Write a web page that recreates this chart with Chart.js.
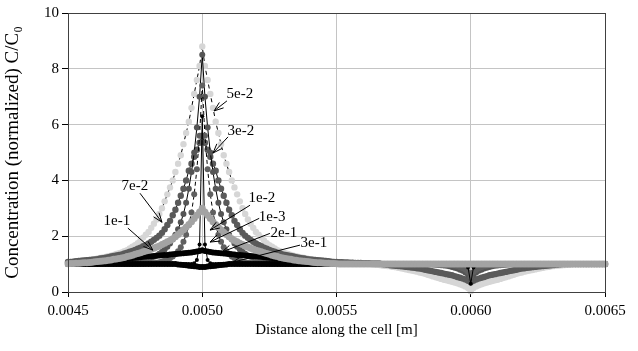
<!DOCTYPE html>
<html>
<head>
<meta charset="utf-8">
<script src="https://cdn.jsdelivr.net/npm/chart.js@4.4.0/dist/chart.umd.min.js"></script>
<style>
  html, body { margin: 0; padding: 0; background: #fff; }
  #conc { display: block; }
</style>
</head>
<body>
<canvas id="conc" width="638" height="351"></canvas>
<script>
// distance along the cell [m]
const distance = [
  0.00450, 0.00451, 0.00452, 0.00453, 0.00454, 0.00455, 0.00456, 0.00457, 0.00458, 0.00459,
  0.00460, 0.00461, 0.00462, 0.00463, 0.00464, 0.00465, 0.00466, 0.00467, 0.00468, 0.00469,
  0.00470, 0.00471, 0.00472, 0.00473, 0.00474, 0.00475, 0.00476, 0.00477, 0.00478, 0.00479,
  0.00480, 0.00481, 0.00482, 0.00483, 0.00484, 0.00485, 0.00486, 0.00487, 0.00488, 0.00489,
  0.00490, 0.00491, 0.00492, 0.00493, 0.00494, 0.00495, 0.00496, 0.00497, 0.00498, 0.00499,
  0.00500, 0.00501, 0.00502, 0.00503, 0.00504, 0.00505, 0.00506, 0.00507, 0.00508, 0.00509,
  0.00510, 0.00511, 0.00512, 0.00513, 0.00514, 0.00515, 0.00516, 0.00517, 0.00518, 0.00519,
  0.00520, 0.00521, 0.00522, 0.00523, 0.00524, 0.00525, 0.00526, 0.00527, 0.00528, 0.00529,
  0.00530, 0.00531, 0.00532, 0.00533, 0.00534, 0.00535, 0.00536, 0.00537, 0.00538, 0.00539,
  0.00540, 0.00541, 0.00542, 0.00543, 0.00544, 0.00545, 0.00546, 0.00547, 0.00548, 0.00549,
  0.00550, 0.00551, 0.00552, 0.00553, 0.00554, 0.00555, 0.00556, 0.00557, 0.00558, 0.00559,
  0.00560, 0.00561, 0.00562, 0.00563, 0.00564, 0.00565, 0.00566, 0.00567, 0.00568, 0.00569,
  0.00570, 0.00571, 0.00572, 0.00573, 0.00574, 0.00575, 0.00576, 0.00577, 0.00578, 0.00579,
  0.00580, 0.00581, 0.00582, 0.00583, 0.00584, 0.00585, 0.00586, 0.00587, 0.00588, 0.00589,
  0.00590, 0.00591, 0.00592, 0.00593, 0.00594, 0.00595, 0.00596, 0.00597, 0.00598, 0.00599,
  0.00600, 0.00601, 0.00602, 0.00603, 0.00604, 0.00605, 0.00606, 0.00607, 0.00608, 0.00609,
  0.00610, 0.00611, 0.00612, 0.00613, 0.00614, 0.00615, 0.00616, 0.00617, 0.00618, 0.00619,
  0.00620, 0.00621, 0.00622, 0.00623, 0.00624, 0.00625, 0.00626, 0.00627, 0.00628, 0.00629,
  0.00630, 0.00631, 0.00632, 0.00633, 0.00634, 0.00635, 0.00636, 0.00637, 0.00638, 0.00639,
  0.00640, 0.00641, 0.00642, 0.00643, 0.00644, 0.00645, 0.00646, 0.00647, 0.00648, 0.00649,
  0.00650
];

// C/C0 for each parameter value
const c1e3 = [
  1, 1, 1, 1, 1, 1, 1, 1, 1, 1,
  1, 1, 1, 1, 1, 1, 1, 1, 1, 1,
  1, 1, 1, 1, 1, 1, 1, 1, 1, 1,
  1, 1, 1, 1, 1, 1, 1, 1, 1, 1,
  1, 1, 1, 1, 1, 1, 1, 1.03, 1.15, 1.7,
  6.3,
  1.7, 1.15, 1.03, 1, 1, 1, 1, 1, 1, 1,
  1, 1, 1, 1, 1, 1, 1, 1, 1, 1,
  1, 1, 1, 1, 1, 1, 1, 1, 1, 1,
  1, 1, 1, 1, 1, 1, 1, 1, 1, 1,
  1, 1, 1, 1, 1, 1, 1, 1, 1, 1,
  1, 1, 1, 1, 1, 1, 1, 1, 1, 1,
  1, 1, 1, 1, 1, 1, 1, 1, 1, 1,
  1, 1, 1, 1, 1, 1, 1, 1, 1, 1,
  1, 1, 1, 1, 1, 1, 1, 1, 1, 1,
  1, 1, 1, 1, 1, 1, 1, 0.98, 0.88, 0.3,
  0.88, 0.98, 1, 1, 1, 1, 1, 1, 1, 1,
  1, 1, 1, 1, 1, 1, 1, 1, 1, 1,
  1, 1, 1, 1, 1, 1, 1, 1, 1, 1,
  1, 1, 1, 1, 1, 1, 1, 1, 1, 1,
  1, 1, 1, 1, 1, 1, 1, 1, 1, 1
];
const c1e2 = [
  1, 1, 1, 1, 1, 1, 1, 1, 1, 1,
  1, 1, 1, 1, 1, 1, 1, 1, 1, 1,
  1, 1, 1, 1, 1, 1, 1, 1.01, 1.01, 1.02,
  1.02, 1.03, 1.04, 1.05, 1.07, 1.09, 1.12, 1.16, 1.21, 1.27,
  1.35, 1.46, 1.6, 1.8, 2.05, 2.4, 2.85, 3.5, 4.4, 5.6,
  7.4,
  5.6, 4.4, 3.5, 2.85, 2.4, 2.05, 1.8, 1.6, 1.46, 1.35,
  1.27, 1.21, 1.16, 1.12, 1.09, 1.07, 1.05, 1.04, 1.03, 1.02,
  1.02, 1.01, 1.01, 1, 1, 1, 1, 1, 1, 1,
  1, 1, 1, 1, 1, 1, 1, 1, 1, 1,
  1, 1, 1, 1, 1, 1, 1, 1, 1, 1,
  1, 1, 1, 1, 1, 1, 1, 1, 1, 1,
  1, 1, 1, 1, 1, 1, 1, 1, 1, 1,
  1, 1, 1, 1, 1, 1, 1, 1, 1, 1,
  1, 1, 1, 1, 1, 1, 1, 1, 1, 0.99,
  0.98, 0.97, 0.96, 0.94, 0.92, 0.89, 0.85, 0.8, 0.72, 0.55,
  0.72, 0.8, 0.85, 0.89, 0.92, 0.94, 0.96, 0.97, 0.98, 0.99,
  1, 1, 1, 1, 1, 1, 1, 1, 1, 1,
  1, 1, 1, 1, 1, 1, 1, 1, 1, 1,
  1, 1, 1, 1, 1, 1, 1, 1, 1, 1,
  1, 1, 1, 1, 1, 1, 1, 1, 1, 1
];
const c3e2 = [
  1, 1, 1, 1, 1, 1, 1, 1, 1, 1,
  1, 1, 1, 1, 1, 1, 1.01, 1.01, 1.02, 1.02,
  1.03, 1.03, 1.04, 1.05, 1.06, 1.08, 1.09, 1.11, 1.13, 1.16,
  1.19, 1.22, 1.26, 1.31, 1.37, 1.44, 1.52, 1.62, 1.74, 1.88,
  2.05, 2.25, 2.5, 2.8, 3.2, 3.7, 4.3, 5.0, 5.9, 7.0,
  8.5,
  7.0, 5.9, 5.0, 4.3, 3.7, 3.2, 2.8, 2.5, 2.25, 2.05,
  1.88, 1.74, 1.62, 1.52, 1.44, 1.37, 1.31, 1.26, 1.22, 1.19,
  1.16, 1.13, 1.11, 1.09, 1.08, 1.06, 1.05, 1.04, 1.03, 1.03,
  1.02, 1.02, 1.01, 1.01, 1, 1, 1, 1, 1, 1,
  1, 1, 1, 1, 1, 1, 1, 1, 1, 1,
  1, 1, 1, 1, 1, 1, 1, 1, 1, 1,
  1, 1, 1, 1, 1, 1, 1, 1, 1, 1,
  1, 1, 1, 1, 1, 1, 1, 1, 1, 1,
  1, 1, 1, 1, 1, 0.99, 0.98, 0.97, 0.96, 0.95,
  0.94, 0.92, 0.9, 0.87, 0.84, 0.8, 0.76, 0.7, 0.62, 0.5,
  0.62, 0.7, 0.76, 0.8, 0.84, 0.87, 0.9, 0.92, 0.94, 0.95,
  0.96, 0.97, 0.98, 0.99, 1, 1, 1, 1, 1, 1,
  1, 1, 1, 1, 1, 1, 1, 1, 1, 1,
  1, 1, 1, 1, 1, 1, 1, 1, 1, 1,
  1, 1, 1, 1, 1, 1, 1, 1, 1, 1
];
const c5e2 = [
  1.07, 1.08, 1.09, 1.1, 1.11, 1.12, 1.13, 1.14, 1.15, 1.17,
  1.18, 1.2, 1.22, 1.24, 1.26, 1.28, 1.3, 1.33, 1.36, 1.39,
  1.42, 1.46, 1.5, 1.56, 1.62, 1.68, 1.75, 1.85, 1.95, 2.05,
  2.15, 2.3, 2.45, 2.6, 2.8, 3.0, 3.25, 3.5, 3.75, 4.0,
  4.3, 4.6, 4.9, 5.3, 5.7, 6.1, 6.6, 7.1, 7.6, 8.1,
  8.8,
  8.1, 7.6, 7.1, 6.6, 6.1, 5.7, 5.3, 4.9, 4.6, 4.3,
  4.0, 3.75, 3.5, 3.25, 3.0, 2.8, 2.6, 2.45, 2.3, 2.15,
  2.05, 1.95, 1.85, 1.75, 1.68, 1.62, 1.56, 1.5, 1.46, 1.42,
  1.39, 1.36, 1.33, 1.3, 1.28, 1.26, 1.24, 1.22, 1.2, 1.18,
  1.17, 1.15, 1.14, 1.13, 1.12, 1.11, 1.1, 1.09, 1.08, 1.07,
  1.06, 1.06, 1.05, 1.05, 1.04, 1.04, 1.03, 1.03, 1.03, 1.02,
  1.02, 1.02, 1.0, 0.99, 0.98, 0.97, 0.95, 0.94, 0.93, 0.92,
  0.9, 0.89, 0.87, 0.85, 0.83, 0.81, 0.79, 0.77, 0.75, 0.73,
  0.7, 0.68, 0.65, 0.62, 0.59, 0.56, 0.53, 0.5, 0.47, 0.44,
  0.42, 0.39, 0.37, 0.34, 0.31, 0.28, 0.24, 0.2, 0.14, 0.03,
  0.14, 0.2, 0.24, 0.28, 0.31, 0.34, 0.37, 0.39, 0.42, 0.44,
  0.47, 0.5, 0.53, 0.56, 0.59, 0.62, 0.65, 0.68, 0.7, 0.73,
  0.75, 0.77, 0.79, 0.81, 0.83, 0.85, 0.87, 0.89, 0.9, 0.92,
  0.93, 0.94, 0.95, 0.96, 0.97, 0.98, 0.99, 1, 1, 1,
  1, 1, 1, 1, 1, 1, 1, 1, 1, 1
];
const c7e2 = [
  1.08, 1.08, 1.09, 1.1, 1.11, 1.12, 1.13, 1.14, 1.15, 1.16,
  1.17, 1.18, 1.2, 1.21, 1.23, 1.25, 1.27, 1.29, 1.31, 1.33,
  1.35, 1.38, 1.41, 1.44, 1.47, 1.51, 1.55, 1.59, 1.64, 1.69,
  1.74, 1.8, 1.87, 1.94, 2.02, 2.12, 2.25, 2.4, 2.55, 2.75,
  2.95, 3.2, 3.45, 3.7, 4.0, 4.35, 4.6, 4.85, 5.1, 5.35,
  5.6,
  5.35, 5.1, 4.85, 4.6, 4.35, 4.0, 3.7, 3.45, 3.2, 2.95,
  2.75, 2.55, 2.4, 2.25, 2.12, 2.02, 1.94, 1.87, 1.8, 1.74,
  1.69, 1.64, 1.59, 1.55, 1.51, 1.47, 1.44, 1.41, 1.38, 1.35,
  1.33, 1.31, 1.29, 1.27, 1.25, 1.23, 1.21, 1.2, 1.18, 1.17,
  1.16, 1.15, 1.14, 1.13, 1.12, 1.11, 1.1, 1.09, 1.08, 1.08,
  1.07, 1.07, 1.06, 1.06, 1.05, 1.05, 1.04, 1.04, 1.04, 1.03,
  1.03, 1.03, 1.02, 1.02, 1.02, 1.02, 1.0, 0.99, 0.98, 0.96,
  0.95, 0.94, 0.93, 0.92, 0.91, 0.9, 0.89, 0.88, 0.87, 0.85,
  0.84, 0.82, 0.8, 0.78, 0.76, 0.74, 0.72, 0.7, 0.68, 0.66,
  0.64, 0.62, 0.6, 0.57, 0.54, 0.51, 0.48, 0.45, 0.4, 0.35,
  0.4, 0.45, 0.48, 0.51, 0.54, 0.57, 0.6, 0.62, 0.64, 0.66,
  0.68, 0.7, 0.72, 0.74, 0.76, 0.78, 0.8, 0.82, 0.84, 0.85,
  0.87, 0.88, 0.89, 0.9, 0.91, 0.92, 0.93, 0.94, 0.95, 0.96,
  0.97, 0.98, 0.99, 1, 1, 1, 1, 1, 1, 1,
  1, 1, 1, 1, 1, 1, 1, 1, 1, 1
];
const c1e1 = [
  1.01, 1.02, 1.02, 1.03, 1.03, 1.04, 1.05, 1.05, 1.06, 1.07,
  1.08, 1.09, 1.1, 1.11, 1.12, 1.14, 1.15, 1.17, 1.18, 1.2,
  1.22, 1.24, 1.27, 1.29, 1.32, 1.35, 1.38, 1.41, 1.44, 1.47,
  1.5, 1.53, 1.57, 1.61, 1.65, 1.7, 1.75, 1.8, 1.85, 1.91,
  1.98, 2.06, 2.14, 2.23, 2.32, 2.42, 2.52, 2.63, 2.75, 2.87,
  3.0,
  2.87, 2.75, 2.63, 2.52, 2.42, 2.32, 2.23, 2.14, 2.06, 1.98,
  1.91, 1.85, 1.8, 1.75, 1.7, 1.65, 1.61, 1.57, 1.53, 1.5,
  1.47, 1.44, 1.41, 1.38, 1.35, 1.32, 1.29, 1.27, 1.24, 1.22,
  1.2, 1.18, 1.17, 1.15, 1.14, 1.12, 1.11, 1.1, 1.09, 1.08,
  1.07, 1.06, 1.05, 1.05, 1.04, 1.03, 1.03, 1.02, 1.02, 1.01,
  1, 1, 1, 1, 1, 1, 1, 1, 1, 1,
  1, 1, 1, 1, 1, 1, 1, 1, 1, 1,
  1, 1, 1, 1, 1, 1, 1, 1, 1, 1,
  1, 1, 1, 1, 1, 1, 1, 1, 1, 1,
  1, 1, 1, 1, 1, 1, 1, 1, 1, 1,
  1, 1, 1, 1, 1, 1, 1, 1, 1, 1,
  1, 1, 1, 1, 1, 1, 1, 1, 1, 1,
  1, 1, 1, 1, 1, 1, 1, 1, 1, 1,
  1, 1, 1, 1, 1, 1, 1, 1, 1, 1,
  1, 1, 1, 1, 1, 1, 1, 1, 1, 1
];
const c2e1 = [
  1.0, 1.01, 1.01, 1.02, 1.02, 1.03, 1.04, 1.05, 1.06, 1.07,
  1.08, 1.09, 1.1, 1.11, 1.12, 1.13, 1.14, 1.15, 1.16, 1.17,
  1.18, 1.19, 1.2, 1.21, 1.22, 1.23, 1.24, 1.25, 1.26, 1.27,
  1.28, 1.28, 1.29, 1.3, 1.31, 1.32, 1.33, 1.33, 1.34, 1.35,
  1.36, 1.37, 1.38, 1.39, 1.4, 1.41, 1.42, 1.43, 1.45, 1.47,
  1.5,
  1.47, 1.45, 1.43, 1.42, 1.41, 1.4, 1.39, 1.38, 1.37, 1.36,
  1.35, 1.34, 1.33, 1.33, 1.32, 1.31, 1.3, 1.29, 1.28, 1.28,
  1.27, 1.26, 1.25, 1.24, 1.23, 1.22, 1.21, 1.2, 1.19, 1.18,
  1.17, 1.16, 1.15, 1.14, 1.13, 1.12, 1.11, 1.1, 1.09, 1.08,
  1.07, 1.06, 1.05, 1.04, 1.03, 1.02, 1.02, 1.01, 1.01, 1.0,
  1, 1, 1, 1, 1, 1, 1, 1, 1, 1,
  1, 1, 1, 1, 1, 1, 1, 1, 1, 1,
  1, 1, 1, 1, 1, 1, 1, 1, 1, 1,
  1, 1, 1, 1, 1, 1, 1, 1, 1, 1,
  1, 1, 1, 1, 1, 1, 1, 1, 1, 1,
  1, 1, 1, 1, 1, 1, 1, 1, 1, 1,
  1, 1, 1, 1, 1, 1, 1, 1, 1, 1,
  1, 1, 1, 1, 1, 1, 1, 1, 1, 1,
  1, 1, 1, 1, 1, 1, 1, 1, 1, 1,
  1, 1, 1, 1, 1, 1, 1, 1, 1, 1
];
const c3e1 = [
  1, 1, 1, 1, 1, 1, 1, 1, 1, 1,
  1, 1, 1, 1, 1, 1, 1, 1, 1, 1,
  1, 1, 1, 1, 1, 1, 1, 1, 1, 1,
  1, 1, 1, 1, 1, 1, 1, 1, 1, 1,
  1.0, 0.99, 0.98, 0.97, 0.96, 0.94, 0.93, 0.92, 0.91, 0.9,
  0.9,
  0.9, 0.91, 0.92, 0.93, 0.94, 0.96, 0.97, 0.98, 0.99, 1.0,
  1, 1, 1, 1, 1, 1, 1, 1, 1, 1,
  1, 1, 1, 1, 1, 1, 1, 1, 1, 1,
  1, 1, 1, 1, 1, 1, 1, 1, 1, 1,
  1, 1, 1, 1, 1, 1, 1, 1, 1, 1,
  1, 1, 1, 1, 1, 1, 1, 1, 1, 1,
  1, 1, 1, 1, 1, 1, 1, 1, 1, 1,
  1, 1, 1, 1, 1, 1, 1, 1, 1, 1,
  1, 1, 1, 1, 1, 1, 1, 1, 1, 1,
  1, 1, 1, 1, 1, 1, 1, 1, 1, 1,
  1, 1, 1, 1, 1, 1, 1, 1, 1, 1,
  1, 1, 1, 1, 1, 1, 1, 1, 1, 1,
  1, 1, 1, 1, 1, 1, 1, 1, 1, 1,
  1, 1, 1, 1, 1, 1, 1, 1, 1, 1,
  1, 1, 1, 1, 1, 1, 1, 1, 1, 1
];

// callout labels: text position and arrow (from -> tip), in data units
const callouts = [
  { text: '5e-2', tx: 0.005140, ty: 7.10, x0: 0.005092, y0: 6.85, x1: 0.005044, y1: 6.49 },
  { text: '3e-2', tx: 0.005144, ty: 5.77, x0: 0.005096, y0: 5.56, x1: 0.005040, y1: 4.98 },
  { text: '7e-2', tx: 0.004749, ty: 3.79, x0: 0.004768, y0: 3.54, x1: 0.004850, y1: 2.50 },
  { text: '1e-1', tx: 0.004682, ty: 2.54, x0: 0.004723, y0: 2.29, x1: 0.004816, y1: 1.50 },
  { text: '1e-2', tx: 0.005222, ty: 3.36, x0: 0.005178, y0: 3.11, x1: 0.005029, y1: 2.22 },
  { text: '1e-3', tx: 0.005260, ty: 2.68, x0: 0.005212, y0: 2.64, x1: 0.005029, y1: 1.79 },
  { text: '2e-1', tx: 0.005304, ty: 2.10, x0: 0.005252, y0: 2.10, x1: 0.005073, y1: 1.43 },
  { text: '3e-1', tx: 0.005416, ty: 1.75, x0: 0.005364, y0: 1.68, x1: 0.005114, y1: 1.07 }
];

[c1e3, c1e2, c3e2, c5e2, c7e2, c1e1, c2e1, c3e1].forEach((s, k) => {
  if (s.length !== distance.length) throw new Error('series ' + k + ' has ' + s.length + ' values');
});

function pts(values) {
  return values.map((v, i) => ({ x: distance[i], y: v }));
}

Chart.defaults.font.family = "'Liberation Serif', 'Times New Roman', serif";
Chart.defaults.font.size = 15;
Chart.defaults.color = '#000';

const calloutPlugin = {
  id: 'callouts',
  afterDatasetsDraw(chart) {
    const { ctx, chartArea: a, scales: { x, y } } = chart;
    ctx.save();
    ctx.strokeStyle = '#404040';
    ctx.lineWidth = 1;
    ctx.strokeRect(a.left + 0.5, a.top + 0.5, a.right - a.left, a.bottom - a.top);
    ctx.strokeStyle = '#000';
    ctx.fillStyle = '#000';
    ctx.font = "15px 'Liberation Serif', serif";
    ctx.textAlign = 'center';
    ctx.textBaseline = 'middle';
    callouts.forEach(c => {
      const px0 = x.getPixelForValue(c.x0), py0 = y.getPixelForValue(c.y0);
      const px1 = x.getPixelForValue(c.x1), py1 = y.getPixelForValue(c.y1);
      const ang = Math.atan2(py1 - py0, px1 - px0);
      ctx.beginPath();
      ctx.moveTo(px0, py0);
      ctx.lineTo(px1, py1);
      ctx.moveTo(px1 - 10 * Math.cos(ang - 0.35), py1 - 10 * Math.sin(ang - 0.35));
      ctx.lineTo(px1, py1);
      ctx.lineTo(px1 - 10 * Math.cos(ang + 0.35), py1 - 10 * Math.sin(ang + 0.35));
      ctx.stroke();
      ctx.fillText(c.text, x.getPixelForValue(c.tx), y.getPixelForValue(c.ty));
    });
    ctx.restore();
  }
};

const ctx = document.getElementById('conc');
new Chart(ctx, {
  type: 'line',
  data: {
    datasets: [
      { label: '1e-1', data: pts(c1e1), order: 0, borderColor: '#a0a0a0', borderWidth: 1,
        pointRadius: 3.5, pointBackgroundColor: '#a3a3a3', pointBorderWidth: 0, clip: false },
      { label: '2e-1', data: pts(c2e1), order: 1, borderColor: '#000', borderWidth: 1,
        pointRadius: 3, pointBackgroundColor: '#000', pointBorderWidth: 0, clip: false },
      { label: '3e-1', data: pts(c3e1), order: 2, borderColor: '#000', borderWidth: 1,
        pointRadius: 3, pointBackgroundColor: '#000', pointBorderWidth: 0, clip: false },
      { label: '1e-3', data: pts(c1e3), order: 3, borderColor: '#000', borderWidth: 1,
        pointRadius: 2, pointBackgroundColor: '#000', pointBorderWidth: 0, clip: false },
      { label: '1e-2', data: pts(c1e2), order: 4, borderColor: '#000', borderWidth: 1, borderDash: [4, 3],
        pointRadius: 3, pointBackgroundColor: '#606060', pointBorderWidth: 0, clip: false },
      { label: '3e-2', data: pts(c3e2), order: 5, borderColor: '#000', borderWidth: 1,
        pointRadius: 3, pointBackgroundColor: '#555555', pointBorderWidth: 0, clip: false },
      { label: '7e-2', data: pts(c7e2), order: 6, borderColor: '#000', borderWidth: 1,
        pointRadius: 3.2, pointBackgroundColor: '#5a5a5a', pointBorderWidth: 0, clip: false },
      { label: '5e-2', data: pts(c5e2), order: 7, borderColor: '#000', borderWidth: 1, borderDash: [4, 3],
        pointRadius: 3.2, pointBackgroundColor: '#d6d6d6', pointBorderWidth: 0, clip: false }
    ]
  },
  options: {
    responsive: false,
    animation: false,
    layout: { padding: { top: 13, right: 33, left: 0, bottom: 0 } },
    plugins: { legend: { display: false }, tooltip: { enabled: false } },
    scales: {
      x: {
        type: 'linear', min: 0.0045, max: 0.0065,
        ticks: { stepSize: 0.0005, padding: 5, maxRotation: 0, callback: v => v.toFixed(4) },
        grid: { color: '#c4c4c4', tickColor: '#000', tickLength: 5 },
        border: { color: '#000' },
        title: { display: true, text: 'Distance along the cell [m]', padding: { top: 0, bottom: 12 } },
        afterFit: s => { s.height = 59; }
      },
      y: {
        min: 0, max: 10,
        ticks: { stepSize: 2, padding: 3 },
        grid: { color: '#c4c4c4', tickColor: '#000', tickLength: 6 },
        border: { color: '#000' },
        title: { display: true, text: 'Concentration (normalized) C/C\u2080', font: { size: 19 },
          padding: { top: 1.5, bottom: 0 } },
        afterFit: s => { s.width = 68; }
      }
    }
  },
  plugins: [calloutPlugin]
});
</script>
</body>
</html>
